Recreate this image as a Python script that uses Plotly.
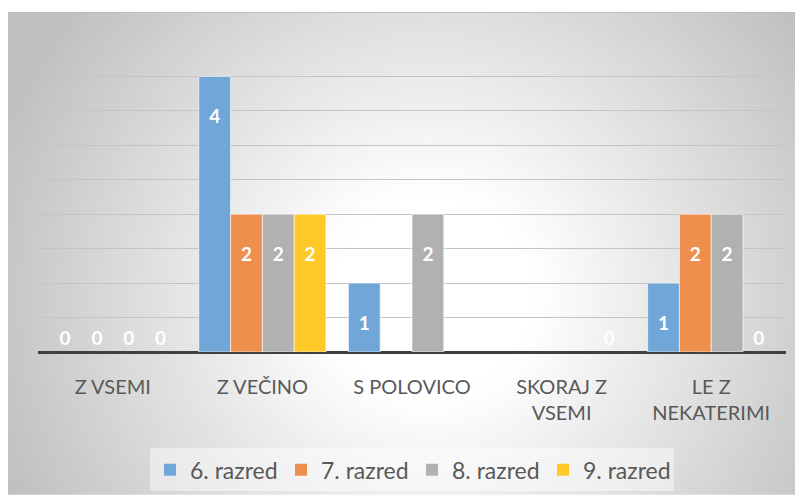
import base64
import struct
import zlib

import plotly.graph_objects as go

# Podatki
kategorije = ["Z VSEMI", "Z VEČINO", "S POLOVICO", "SKORAJ Z<br>VSEMI", "LE Z<br>NEKATERIMI"]
razred6 = [0, 4, 1, None, 1]
razred7 = [0, 2, None, None, 2]
razred8 = [0, 2, 2, None, 2]
razred9 = [0, 2, None, 0, 0]

serije = [
    ("6. razred", razred6, "#70A7D8"),
    ("7. razred", razred7, "#EF8F4E"),
    ("8. razred", razred8, "#B1B1B1"),
    ("9. razred", razred9, "#FFC92A"),
]

# stran ima 8 px roba, zato je slika nekoliko manjša od okna
W, H = 795, 495
ML, MR, MT, MB = 30, 17, 34, 146
PW, PH = W - ML - MR, H - MT - MB


def px_x(x):
    return (x - ML) / PW


def px_y(y):
    return (H - MB - y) / PH


def gradient_png(w, h, frame_w, frame_h, cx, cy, R):
    """Majhna sivinska PNG slika z radialnim prelivom (za ozadje)."""
    vrstice = b""
    for j in range(h):
        vrstica = bytearray([0])
        py = (j + 0.5) * frame_h / h
        for i in range(w):
            px = (i + 0.5) * frame_w / w
            r = ((px - cx) ** 2 + (py - cy) ** 2) ** 0.5 / R
            t = min(max((r - 0.25) / 0.85, 0), 1)
            vrstica.append(round(255 - t * (255 - 192)))
        vrstice += bytes(vrstica)

    def chunk(tip, podatki):
        c = struct.pack(">I", len(podatki)) + tip + podatki
        return c + struct.pack(">I", zlib.crc32(tip + podatki) & 0xFFFFFFFF)

    png = b"\x89PNG\r\n\x1a\n"
    png += chunk(b"IHDR", struct.pack(">IIBBBBB", w, h, 8, 0, 0, 0, 0))
    png += chunk(b"IDAT", zlib.compress(vrstice))
    png += chunk(b"IEND", b"")
    return "data:image/png;base64," + base64.b64encode(png).decode()


fig = go.Figure()
for ime, vrednosti, barva in serije:
    fig.add_trace(go.Bar(
        name=ime,
        x=kategorije,
        y=vrednosti,
        marker=dict(
            color=barva,
            line=dict(color="rgba(255,255,255,0.6)",
                      width=[0 if not v else 1 for v in vrednosti]),
        ),
        text=["" if v is None else (str(v) if v == 0 else "&nbsp;<br>" + str(v)) for v in vrednosti],
        textposition=["outside" if v == 0 else "inside" for v in vrednosti],
        insidetextanchor="end",
        textfont=dict(color="white", size=19, family="Lato", weight="bold"),
        cliponaxis=False,
        hovertemplate="%{x}: %{y}<extra>" + ime + "</extra>",
    ))

# okvir grafa (v slikovnih točkah slike)
FX0, FY0, FX1, FY1 = 0, 4, 793, 494
ozadje = gradient_png(80, 49, FX1 - FX0, FY1 - FY0, 422, 288, 420)

shapes = [
    dict(type="line", xref="paper", yref="paper", layer="below",
         x0=px_x(FX0), x1=px_x(FX1), y0=px_y(FY0), y1=px_y(FY0),
         line=dict(color="#BDBDBD", width=1)),
    dict(type="line", xref="paper", yref="paper", layer="below",
         x0=px_x(FX0 + 0.5), x1=px_x(FX0 + 0.5), y0=px_y(FY0), y1=px_y(FY1),
         line=dict(color="#C4C4C4", width=1)),
]

fig.update_layout(
    width=W,
    height=H,
    margin=dict(l=ML, r=MR, t=MT, b=MB),
    paper_bgcolor="white",
    plot_bgcolor="rgba(0,0,0,0)",
    barmode="group",
    bargap=0.15,
    bargroupgap=0,
    images=[dict(
        source=ozadje, xref="paper", yref="paper", layer="below",
        x=px_x(FX0), y=px_y(FY0),
        sizex=(FX1 - FX0) / PW, sizey=(FY1 - FY0) / PH,
        xanchor="left", yanchor="top", sizing="stretch",
    )],
    shapes=shapes,
    font=dict(family="Lato", color="#595959"),
    showlegend=True,
    legend=dict(
        orientation="h",
        x=0.5, xanchor="center",
        y=-0.38, yanchor="middle",
        bgcolor="rgba(255,255,255,0.45)",
        font=dict(size=23, color="#595959"),
        entrywidth=86,
        itemclick=False,
    ),
)
fig.update_yaxes(
    range=[0, 4.5],
    dtick=0.5,
    showticklabels=False,
    showgrid=True,
    gridcolor="#C4C4C4",
    gridwidth=1,
    zeroline=True,
    zerolinecolor="#404040",
    zerolinewidth=3,
)
fig.update_xaxes(
    showgrid=False,
    showline=False,
    tickfont=dict(size=20, color="#595959"),
    ticks="",
    ticklabelstandoff=21,
)

fig.write_html("out.html")
